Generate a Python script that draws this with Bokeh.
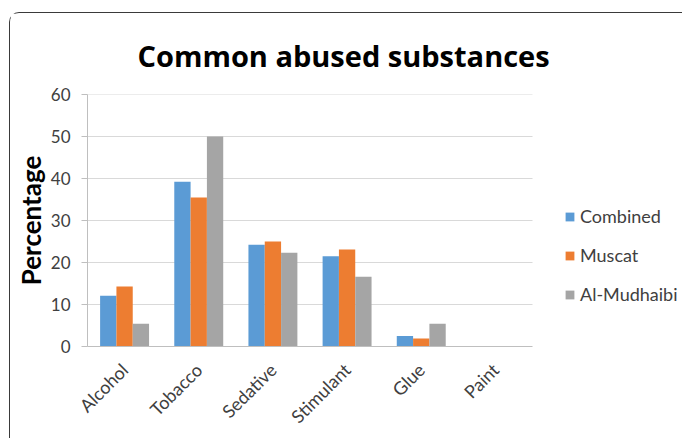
import math
from bokeh.plotting import figure
from bokeh.models import (ColumnDataSource, Range1d, FixedTicker, Legend,
                          LegendItem)
from bokeh.transform import dodge
from bokeh.embed import file_html
from bokeh.resources import INLINE

categories = ["Alcohol", "Tobacco", "Sedative", "Stimulant", "Glue", "Paint"]
combined = [12.1, 39.2, 24.2, 21.5, 2.5, 0.0]
muscat = [14.3, 35.5, 25.0, 23.1, 1.9, 0.0]
al_mudhaibi = [5.4, 50.0, 22.3, 16.6, 5.4, 0.0]
series_names = ["Combined", "Muscat", "Al-Mudhaibi"]
series_colors = ["#5B9BD5", "#ED7D31", "#A5A5A5"]
y_ticks = [0, 10, 20, 30, 40, 50, 60]

FONT = "Lato"

n_cat = len(categories)
centers = [i + 0.5 for i in range(n_cat)]
source = ColumnDataSource(dict(x=centers, combined=combined,
                               muscat=muscat, al_mudhaibi=al_mudhaibi))

# the chart sits in a frame whose top-left corner is rounded;
# right and bottom edges run past the page
OFF_X, OFF_Y, BORDER = 9, 12, 1
W, H = 683 - OFF_X - BORDER, 439 - OFF_Y - BORDER
LEFT, TOP, BOTTOM = 77, 81, 93
BARS_W = 445                       # pixel width of the category area
FRAME_W = W - LEFT                 # plotting frame runs to the right edge
x_end = n_cat * FRAME_W / BARS_W   # leaves room for the legend on the right

p = figure(width=W, height=H, output_backend="svg", toolbar_location=None,
           x_range=Range1d(0, x_end), y_range=Range1d(0, 60),
           min_border_left=LEFT, min_border_right=0,
           min_border_top=TOP, min_border_bottom=BOTTOM,
           title="Common abused substances")
p.styles = {"transform": f"translate({OFF_X}px, {OFF_Y}px)",
            "border-top": f"{BORDER}px solid #3a3a3a",
            "border-left": f"{BORDER}px solid #3a3a3a",
            "border-top-left-radius": "10px"}
p.outline_line_color = None
p.background_fill_color = "white"
p.border_fill_color = "white"

p.title.align = "left"
p.title.offset = 50
p.title.text_font = "Open Sans"
p.title.text_font_style = "bold"
p.title.text_font_size = "29px"
p.title.text_color = "black"
p.title.standoff = 39

# horizontal gridlines across the category area only
grid_src = ColumnDataSource(dict(y=y_ticks[1:], x0=[0] * (len(y_ticks) - 1),
                                 x1=[n_cat] * (len(y_ticks) - 1)))
p.segment(x0="x0", x1="x1", y0="y", y1="y", source=grid_src,
          line_color="#d9d9d9", line_width=1)

bar_w = 0.22
fields = ["combined", "muscat", "al_mudhaibi"]
renderers = []
for i, (f, c) in enumerate(zip(fields, series_colors)):
    r = p.vbar(x=dodge("x", (i - 1) * bar_w), top=f, width=bar_w,
               source=source, fill_color=c, line_color=None)
    renderers.append(r)

# axes
p.yaxis.ticker = FixedTicker(ticks=y_ticks)
p.yaxis.bounds = (0, 60)
p.yaxis.major_tick_line_color = "#bfbfbf"
p.yaxis.major_tick_out = 6
p.yaxis.major_tick_in = 0
p.yaxis.minor_tick_line_color = None
p.yaxis.axis_line_color = "#bfbfbf"
p.yaxis.major_label_text_font = FONT
p.yaxis.major_label_text_font_size = "17px"
p.yaxis.major_label_text_color = "#404040"
p.yaxis.major_label_standoff = 11
p.yaxis.axis_label = "Percentage"
p.yaxis.axis_label_text_font = FONT
p.yaxis.axis_label_text_font_style = "bold"
p.yaxis.axis_label_text_font_size = "26px"
p.yaxis.axis_label_text_color = "black"
p.yaxis.axis_label_standoff = 1

p.xaxis.ticker = FixedTicker(ticks=centers)
p.xaxis.major_label_overrides = {c: name for c, name in zip(centers, categories)}
p.xaxis.bounds = (0, n_cat)
p.xaxis.major_tick_line_color = None
p.xaxis.minor_tick_line_color = None
p.xaxis.axis_line_color = "#bfbfbf"
p.xaxis.major_label_orientation = math.pi / 4
p.xaxis.major_label_text_font = FONT
p.xaxis.major_label_text_font_size = "18px"
p.xaxis.major_label_text_color = "#404040"
p.xaxis.major_label_standoff = 14

p.xgrid.grid_line_color = None
p.ygrid.grid_line_color = None

legend = Legend(items=[LegendItem(label=n, renderers=[r])
                       for n, r in zip(series_names, renderers)],
                location=(477, 41), orientation="vertical",
                glyph_width=11, glyph_height=11, label_height=20,
                label_standoff=5, spacing=17, padding=0, margin=0,
                border_line_color=None, background_fill_alpha=0,
                label_text_font=FONT, label_text_font_size="18px",
                label_text_color="#404040")
p.add_layout(legend, "center")

open("out.html", "w").write(file_html(p, INLINE))
